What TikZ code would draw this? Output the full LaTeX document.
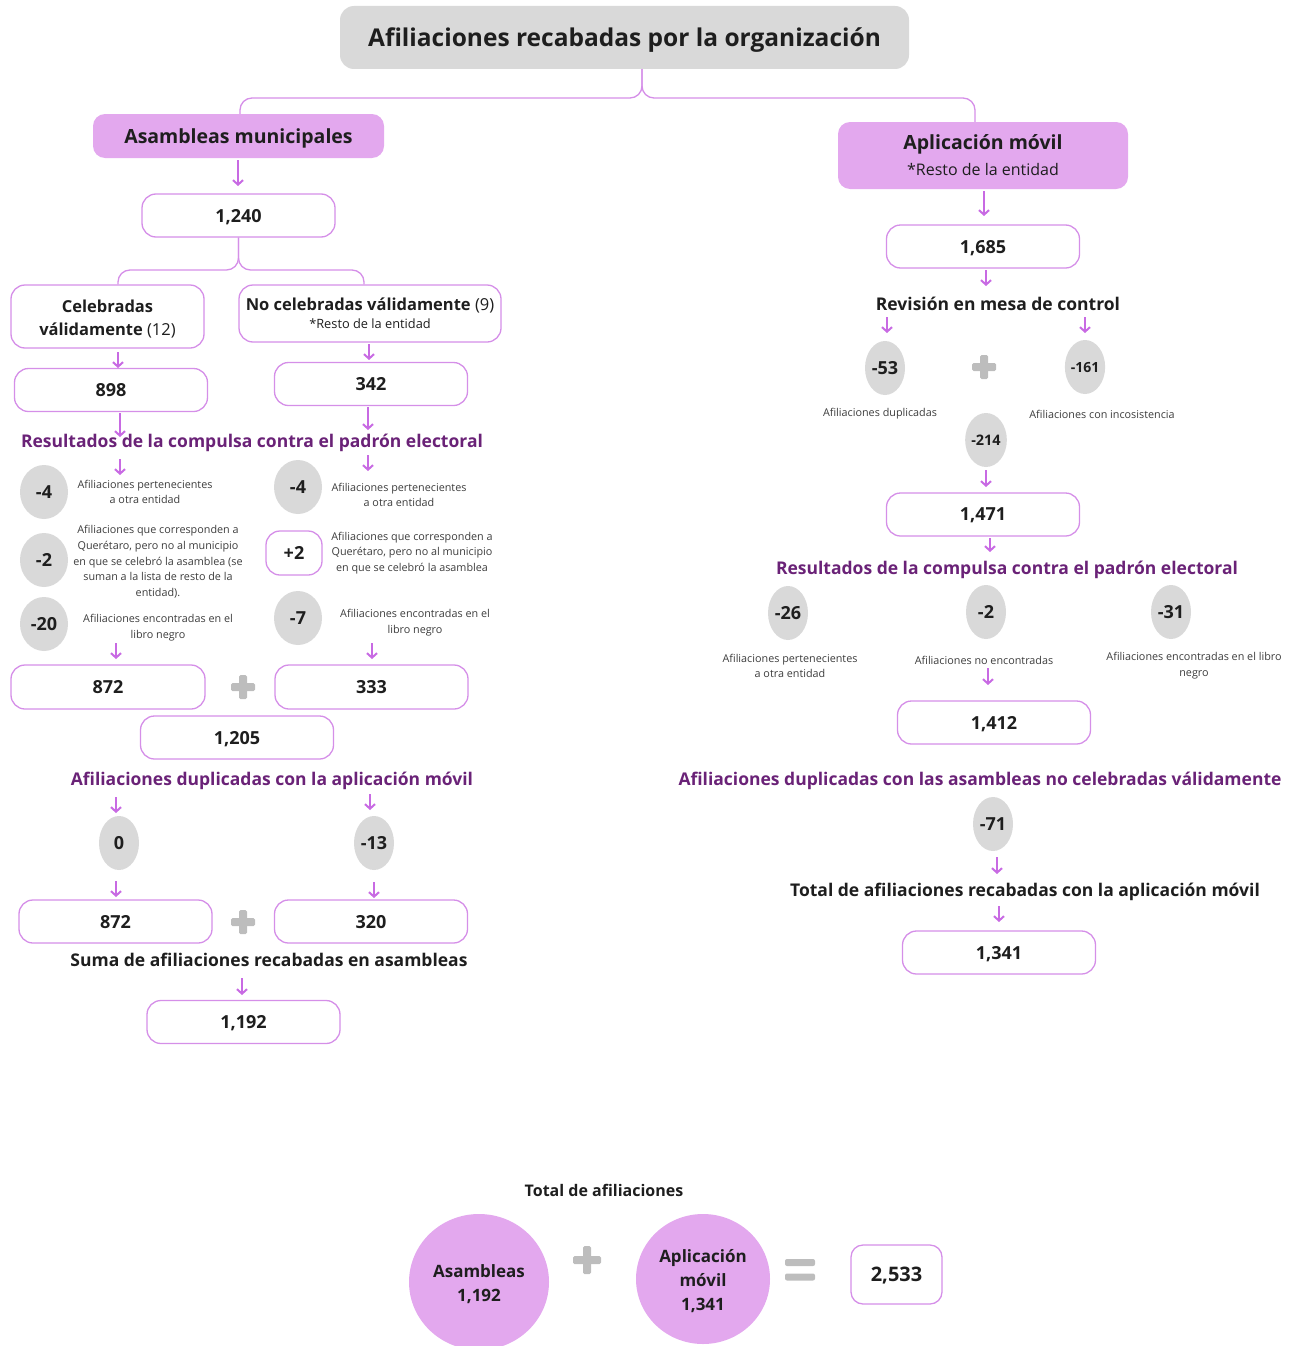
\documentclass[tikz,border=0pt]{standalone}
\usepackage{fontspec}
\setmainfont{Open Sans}
\usetikzlibrary{shapes.geometric,arrows.meta}

\definecolor{titlegray}{HTML}{D9D9D9}
\definecolor{headfill}{HTML}{E3A8EE}
\definecolor{boxline}{HTML}{D58FE8}
\definecolor{arrowc}{HTML}{C86AE3}
\definecolor{dotgray}{HTML}{D9D9D9}
\definecolor{plusgray}{HTML}{BDBDBD}
\definecolor{deeppurple}{HTML}{6A2277}
\definecolor{notegray}{HTML}{3C3C3C}
\definecolor{inkblack}{HTML}{1E1E1E}

\tikzset{
    titlebox/.style={fill=titlegray, rounded corners=14pt, minimum width=569pt, minimum height=63pt,
        text depth=0pt, text=inkblack, font=\bfseries\fontsize{24.5}{28}\selectfont},
    headbox/.style={fill=headfill, rounded corners=12pt, text=inkblack, align=center,
        font=\bfseries\fontsize{19.5}{24}\selectfont},
    valbox/.style={draw=boxline, line width=1.3pt, fill=white, rounded corners=14pt,
        minimum width=193pt, minimum height=43pt, text depth=0pt, text=inkblack,
        font=\bfseries\fontsize{18}{22}\selectfont},
    kindbox/.style={draw=boxline, line width=1.3pt, fill=white, rounded corners=14pt, align=center,
        text=inkblack, font=\bfseries\fontsize{16.5}{23}\selectfont},
    bigdot/.style={ellipse, fill=dotgray, minimum width=48pt, minimum height=54pt, inner sep=0pt,
        text depth=0pt, text=inkblack, font=\bfseries\fontsize{18}{22}\selectfont},
    smalldot/.style={bigdot, minimum width=40pt},
    note/.style={text=notegray, align=center, font=\fontsize{10.8}{15.7}\selectfont},
    section/.style={text=deeppurple, text depth=0pt, font=\bfseries\fontsize{17.5}{21}\selectfont},
    caption/.style={text=inkblack, text depth=0pt, font=\bfseries\fontsize{17.5}{21}\selectfont},
    sumdot/.style={ellipse, fill=headfill, inner sep=0pt, align=center, text=inkblack,
        font=\bfseries\fontsize{17}{24}\selectfont},
    link/.style={draw=boxline, line width=1.3pt, rounded corners=12pt},
    arr/.style={draw=arrowc, line width=2pt, -{Straight Barb[length=4.5pt,width=10pt]}}
}

\begin{document}
\begin{tikzpicture}[x=1pt, y=-1pt]
    \useasboundingbox (0,0) rectangle (1295,1346);

    % heading boxes
    \node[titlebox] (title) at (624.5,37.5) {Afiliaciones recabadas por la organización};
    \node[headbox, minimum width=291pt, minimum height=44pt, text depth=0pt] (asam) at (238.5,136) {Asambleas municipales};
    \node[headbox, minimum width=290pt, minimum height=67pt] (aplic) at (983,155.5)
        {Aplicación móvil\\[2pt]{\mdseries\fontsize{16}{20}\selectfont *Resto de la entidad}};

    \coordinate (split) at (642,98);
    \draw[link] ([xshift=17.5pt]title.south) -- (split) -| ([xshift=1.5pt]asam.north);
    \draw[link] ([xshift=17.5pt]title.south) -- (split) -| ([xshift=-8pt]aplic.north);

    % left branch: asambleas
    \node[valbox] (n1240) at (238.5,215.5) {1,240};
    \node[kindbox, minimum width=193pt, minimum height=63pt] (cel) at (107.5,316.5)
        {\rule{0pt}{17pt}Celebradas\\válidamente {\mdseries(12)}};
    \node[kindbox, minimum width=262pt, minimum height=57pt] (nocel) at (370,313.5)
        {No celebradas válidamente {\mdseries(9)}\\[-5pt]{\mdseries\fontsize{12.8}{16}\selectfont *Resto de la entidad}};

    \coordinate (split2) at (238.5,270);
    \draw[link] (n1240.south) -- (split2) -| ([xshift=10.5pt]cel.north);
    \draw[link] (n1240.south) -- (split2) -| ([xshift=-6pt]nocel.north);

    \node[valbox] (n898) at (111,390) {898};
    \node[valbox] (n342) at (371,384) {342};
    \node[section] (res1) at (252,441) {Resultados de la compulsa contra el padrón electoral};

    \node[bigdot] (dl1) at (44,492) {-4};
    \node[bigdot] (dl2) at (44,560) {-2};
    \node[bigdot] (dl3) at (44,624) {-20};
    \node[bigdot] (dr1) at (298,487) {-4};
    \node[valbox, minimum width=56pt, minimum height=44pt] (dr2) at (294,553) {+2};
    \node[bigdot] (dr3) at (298,618) {-7};

    \node[note] (nl1) at (145,492) {Afiliaciones pertenecientes\\a otra entidad};
    \node[note] (nl2) at (158,562) {Afiliaciones que corresponden a\\Querétaro, pero no al municipio\\en que se celebró la asamblea (se\\suman a la lista de resto de la\\entidad).};
    \node[note] (nl3) at (158,628) {Afiliaciones encontradas en el\\libro negro};
    \node[note] (nr1) at (399,495) {Afiliaciones pertenecientes\\a otra entidad};
    \node[note] (nr2) at (412,553) {Afiliaciones que corresponden a\\Querétaro, pero no al municipio\\en que se celebró la asamblea};
    \node[note] (nr3) at (415,623) {Afiliaciones encontradas en el\\libro negro};

    \node[valbox, minimum width=194pt, minimum height=44pt] (n872a) at (108,687) {872};
    \node[valbox, minimum width=193pt, minimum height=44pt] (n333) at (371.5,687) {333};
    \node[valbox] (n1205) at (237,737.5) {1,205};
    \node[section] (dup1) at (272,779) {Afiliaciones duplicadas con la aplicación móvil};
    \node[smalldot] (z0) at (119,843) {0};
    \node[smalldot] (m13) at (374,843) {-13};
    \node[valbox] (n872b) at (115.5,921.5) {872};
    \node[valbox] (n320) at (371,921.5) {320};
    \node[caption] (suma) at (269,960) {Suma de afiliaciones recabadas en asambleas};
    \node[valbox] (n1192) at (243.5,1022) {1,192};

    % right branch: aplicacion movil
    \node[valbox] (n1685) at (983,246.5) {1,685};
    \node[caption] (rev) at (998,304) {Revisión en mesa de control};
    \node[smalldot] (m53) at (885,368) {-53};
    \node[smalldot, font=\bfseries\fontsize{14}{18}\selectfont] (m161) at (1085,367) {-161};
    \node[note] (ndup) at (880,414) {Afiliaciones duplicadas};
    \node[note] (ninc) at (1102,414) {Afiliaciones con incosistencia};
    \node[smalldot, font=\bfseries\fontsize{14.5}{18}\selectfont] (m214) at (986,440) {-214};
    \node[valbox] (n1471) at (983,514.5) {1,471};
    \node[section] (res2) at (1007,568) {Resultados de la compulsa contra el padrón electoral};
    \node[smalldot] (m26) at (788,613) {-26};
    \node[smalldot] (m2) at (986,612) {-2};
    \node[smalldot] (m31) at (1171,612) {-31};
    \node[note] (nper) at (790,666) {Afiliaciones pertenecientes\\a otra entidad};
    \node[note] (nnoe) at (984,660) {Afiliaciones no encontradas};
    \node[note] (nlib) at (1194,666) {Afiliaciones encontradas en el libro\\negro};
    \node[valbox] (n1412) at (994,722.5) {1,412};
    \node[section] (dup2) at (980,779) {Afiliaciones duplicadas con las asambleas no celebradas válidamente};
    \node[smalldot] (m71) at (993,824) {-71};
    \node[caption] (tot) at (1025,890) {Total de afiliaciones recabadas con la aplicación móvil};
    \node[valbox] (n1341) at (999,952.5) {1,341};

    % short arrows, set from the node they point to
    \draw[arr] (n1240) ++(-0.5,-55.5) -- +(0,26);
    \draw[arr] (n1685) ++(1,-55.5) -- +(0,25);
    \draw[arr] (n898) ++(7,-38) -- +(0,16);
    \draw[arr] (n342) ++(-2,-40) -- +(0,16);
    \draw[arr] (res1) ++(-132,-28) -- +(0,24);
    \draw[arr] (res1) ++(116,-34) -- +(0,23);
    \draw[arr] (dl1) ++(76,-33) -- +(0,16);
    \draw[arr] (dr1) ++(70,-32) -- +(0,16);
    \draw[arr] (n872a) ++(8,-44) -- +(0,16);
    \draw[arr] (n333) ++(0.5,-44) -- +(0,16);
    \draw[arr] (z0) ++(-3,-46) -- +(0,16);
    \draw[arr] (m13) ++(-4,-49) -- +(0,16);
    \draw[arr] (n872b) ++(0.5,-40.5) -- +(0,16);
    \draw[arr] (n320) ++(3,-39.5) -- +(0,16);
    \draw[arr] (n1192) ++(-1.5,-44) -- +(0,17);
    \draw[arr] (rev) ++(-12,-34) -- +(0,16);
    \draw[arr] (m53) ++(2,-51) -- +(0,16);
    \draw[arr] (m161) ++(0,-50) -- +(0,16);
    \draw[arr] (n1471) ++(3,-44.5) -- +(0,17);
    \draw[arr] (res2) ++(-17,-30) -- +(0,14);
    \draw[arr] (n1412) ++(-6,-54.5) -- +(0,17);
    \draw[arr] (tot) ++(-28,-33) -- +(0,17);
    \draw[arr] (n1341) ++(0,-46.5) -- +(0,16);

    % grand total
    \node[caption, font=\bfseries\fontsize{16}{20}\selectfont] (totaf) at (604,1190) {Total de afiliaciones};
    \node[sumdot, minimum width=140pt, minimum height=136pt] (sasam) at (479,1282) {\rule{0pt}{18pt}Asambleas\\1,192};
    \node[sumdot, minimum width=134pt, minimum height=130pt] (sapp) at (703,1279) {\rule{0pt}{18pt}Aplicación\\móvil\\1,341};
    \node[valbox, minimum width=91pt, minimum height=59pt, rounded corners=12pt,
        font=\bfseries\fontsize{20}{24}\selectfont] (n2533) at (896.5,1274.5) {2,533};

    % plus and equal signs
    \foreach \x/\y/\s in {243/687/12, 243/922/12, 984/367/12, 587/1260/14}
        {\fill[plusgray, rounded corners=1.5pt] (\x,\y) ++(-\s,-4) rectangle ++(2*\s,8);
         \fill[plusgray, rounded corners=1.5pt] (\x,\y) ++(-4,-\s) rectangle ++(8,2*\s);}
    \foreach \y in {1262.5, 1277} {\fill[plusgray, rounded corners=2pt] (785,\y) ++(0,-3.5) rectangle ++(30,7);}
\end{tikzpicture}
\end{document}
